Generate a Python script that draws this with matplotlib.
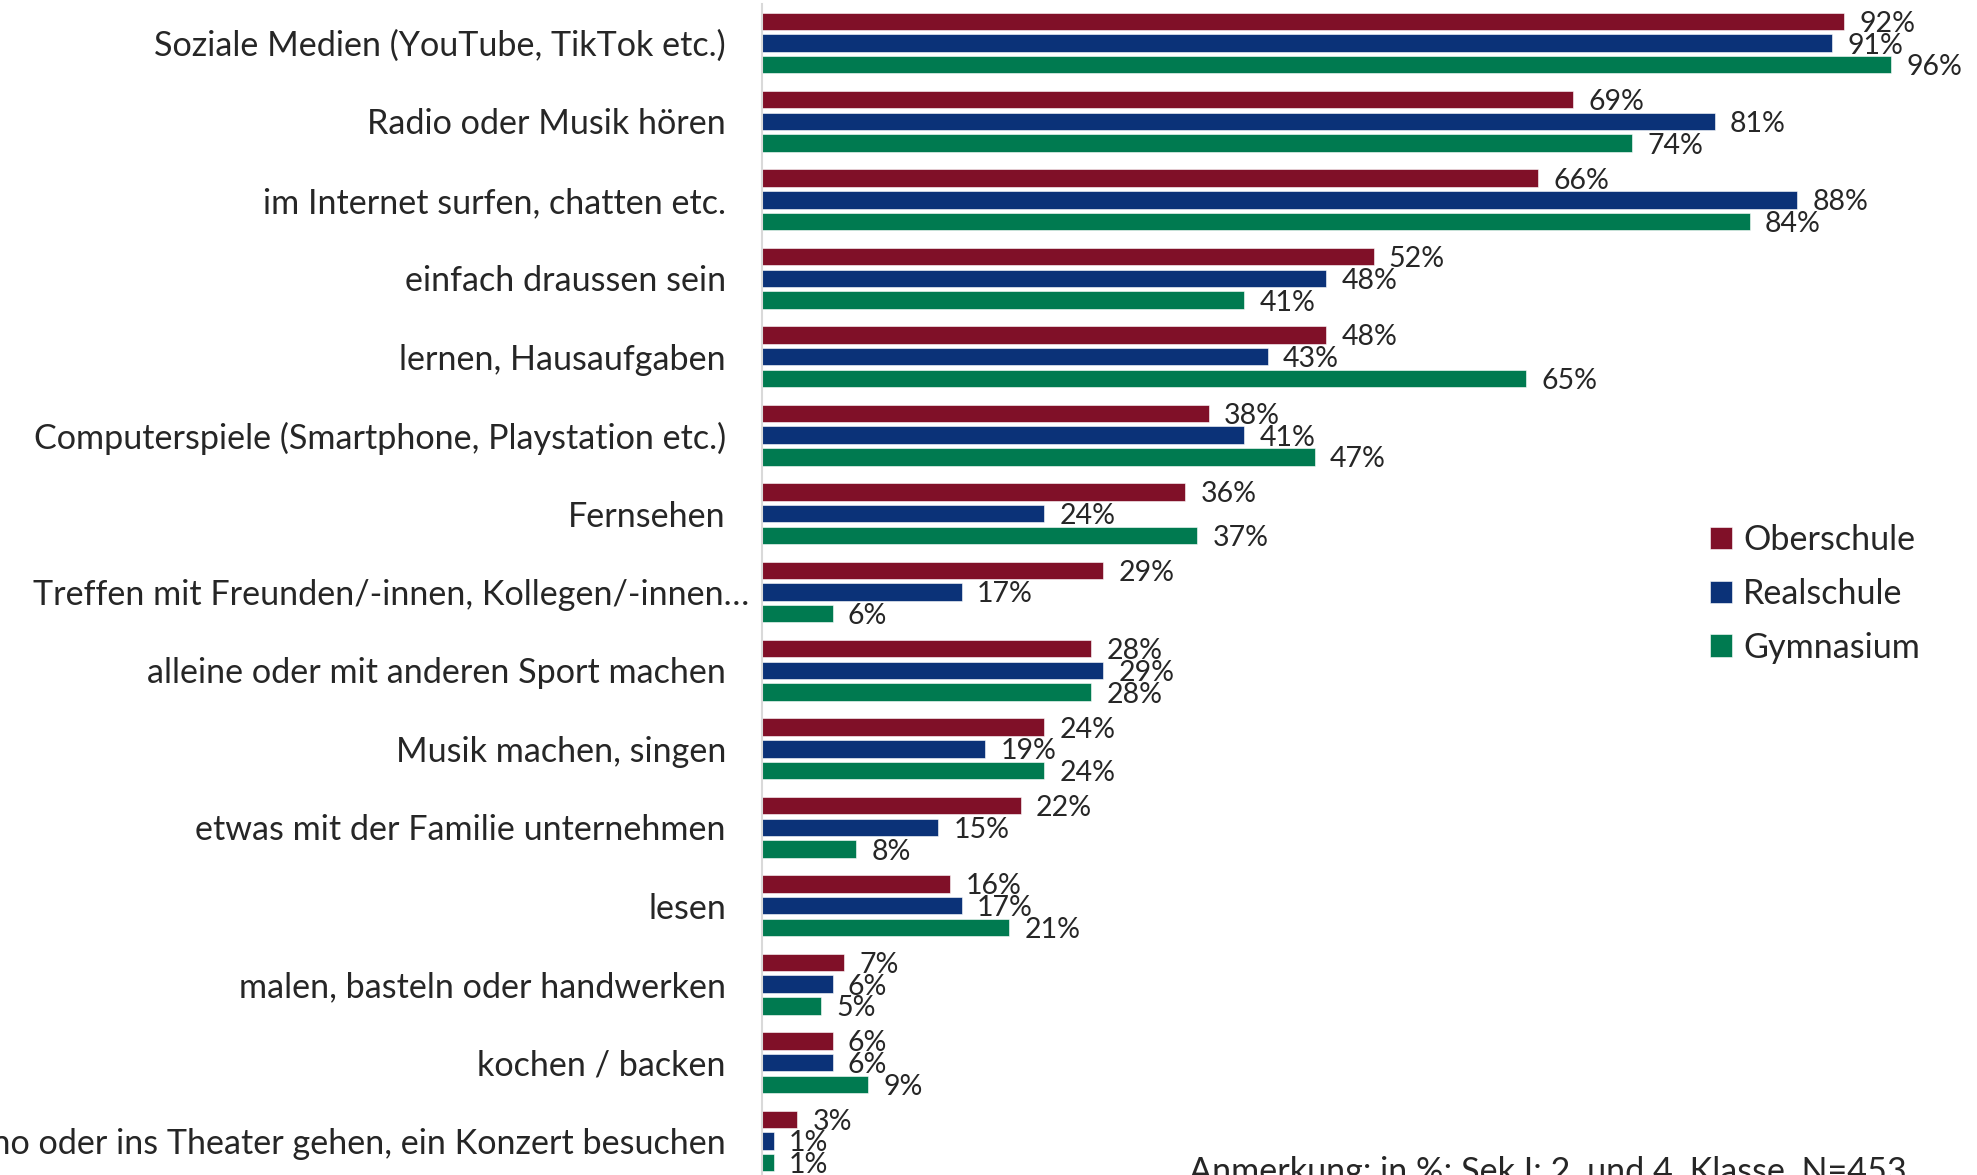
import matplotlib
matplotlib.use("Agg")
import matplotlib.pyplot as plt
import numpy as np

plt.rcParams["font.family"] = ["Lato", "DejaVu Sans"]

categories = [
    "Soziale Medien (YouTube, TikTok etc.)",
    "Radio oder Musik hören",
    "im Internet surfen, chatten etc.",
    "einfach draussen sein",
    "lernen, Hausaufgaben",
    "Computerspiele (Smartphone, Playstation etc.)",
    "Fernsehen",
    "Treffen mit Freunden/-innen, Kollegen/-innen…",
    "alleine oder mit anderen Sport machen",
    "Musik machen, singen",
    "etwas mit der Familie unternehmen",
    "lesen",
    "malen, basteln oder handwerken",
    "kochen / backen",
    "ins Kino oder ins Theater gehen, ein Konzert besuchen",
]
oberschule = [92, 69, 66, 52, 48, 38, 36, 29, 28, 24, 22, 16, 7, 6, 3]
realschule = [91, 81, 88, 48, 43, 41, 24, 17, 29, 19, 15, 17, 6, 6, 1]
gymnasium = [96, 74, 84, 41, 65, 47, 37, 6, 28, 24, 8, 21, 5, 9, 1]
series_names = ["Oberschule", "Realschule", "Gymnasium"]
note = "Anmerkung: in %; Sek I: 2. und 4. Klasse, N=453"

colors = ["#801028", "#0B3278", "#007A50"]
text_col = "#262626"
fs = 24.6

W, H = 1977, 1175
fig = plt.figure(figsize=(W / 100, H / 100), dpi=100)
# axes run a bit past the bottom edge, so the last group is cut like the print
top_px, bot_px = 3.8, 1180.2
ax = fig.add_axes([762 / W, 1 - bot_px / H, 1176 / W, (bot_px - top_px) / H])

y = np.arange(len(categories))
step = 0.277
for k, (vals, name, col) in enumerate(zip([oberschule, realschule, gymnasium], series_names, colors)):
    bars = ax.barh(y + (k - 1) * step, vals, height=0.223, color=col,
                   edgecolor="white", linewidth=0.4, label=name)
    lbls = ax.bar_label(bars, labels=[f"{v}%" for v in vals], padding=11,
                        fontsize=20.5, color=text_col)
    for t in lbls:
        t.set_va("center_baseline")

ax.set_xlim(0, 100)
ax.set_ylim(len(categories) - 0.5, -0.5)
ax.set_yticks(y, [])
ax.tick_params(axis="y", length=0)
ax.set_xticks([])
for s in ("top", "right", "bottom"):
    ax.spines[s].set_visible(False)
ax.spines["left"].set_color("#d9d9d9")
ax.spines["left"].set_linewidth(1.5)

# category names; the truncated one ("…") sits closer to the axis
for i, cat in enumerate(categories):
    pad = 9.5 if cat.endswith("…") else 26
    ax.annotate(cat, xy=(0, i), xycoords=("axes fraction", "data"),
                xytext=(-pad, 0), textcoords="offset points",
                ha="right", va="center_baseline", fontsize=fs, color=text_col)

leg = ax.legend(loc="upper left", bbox_to_anchor=(1710 / W, 1 - 524 / H),
                bbox_transform=fig.transFigure, frameon=False, fontsize=fs,
                handlelength=0.64, handleheight=0.64, handletextpad=0.33,
                labelspacing=0.64, borderpad=0, borderaxespad=0)
for t in leg.get_texts():
    t.set_color(text_col)

fig.text(1189 / W, 1 - 1156 / H, note, fontsize=fs, color=text_col, va="top")

fig.savefig("out.png", dpi=100)
